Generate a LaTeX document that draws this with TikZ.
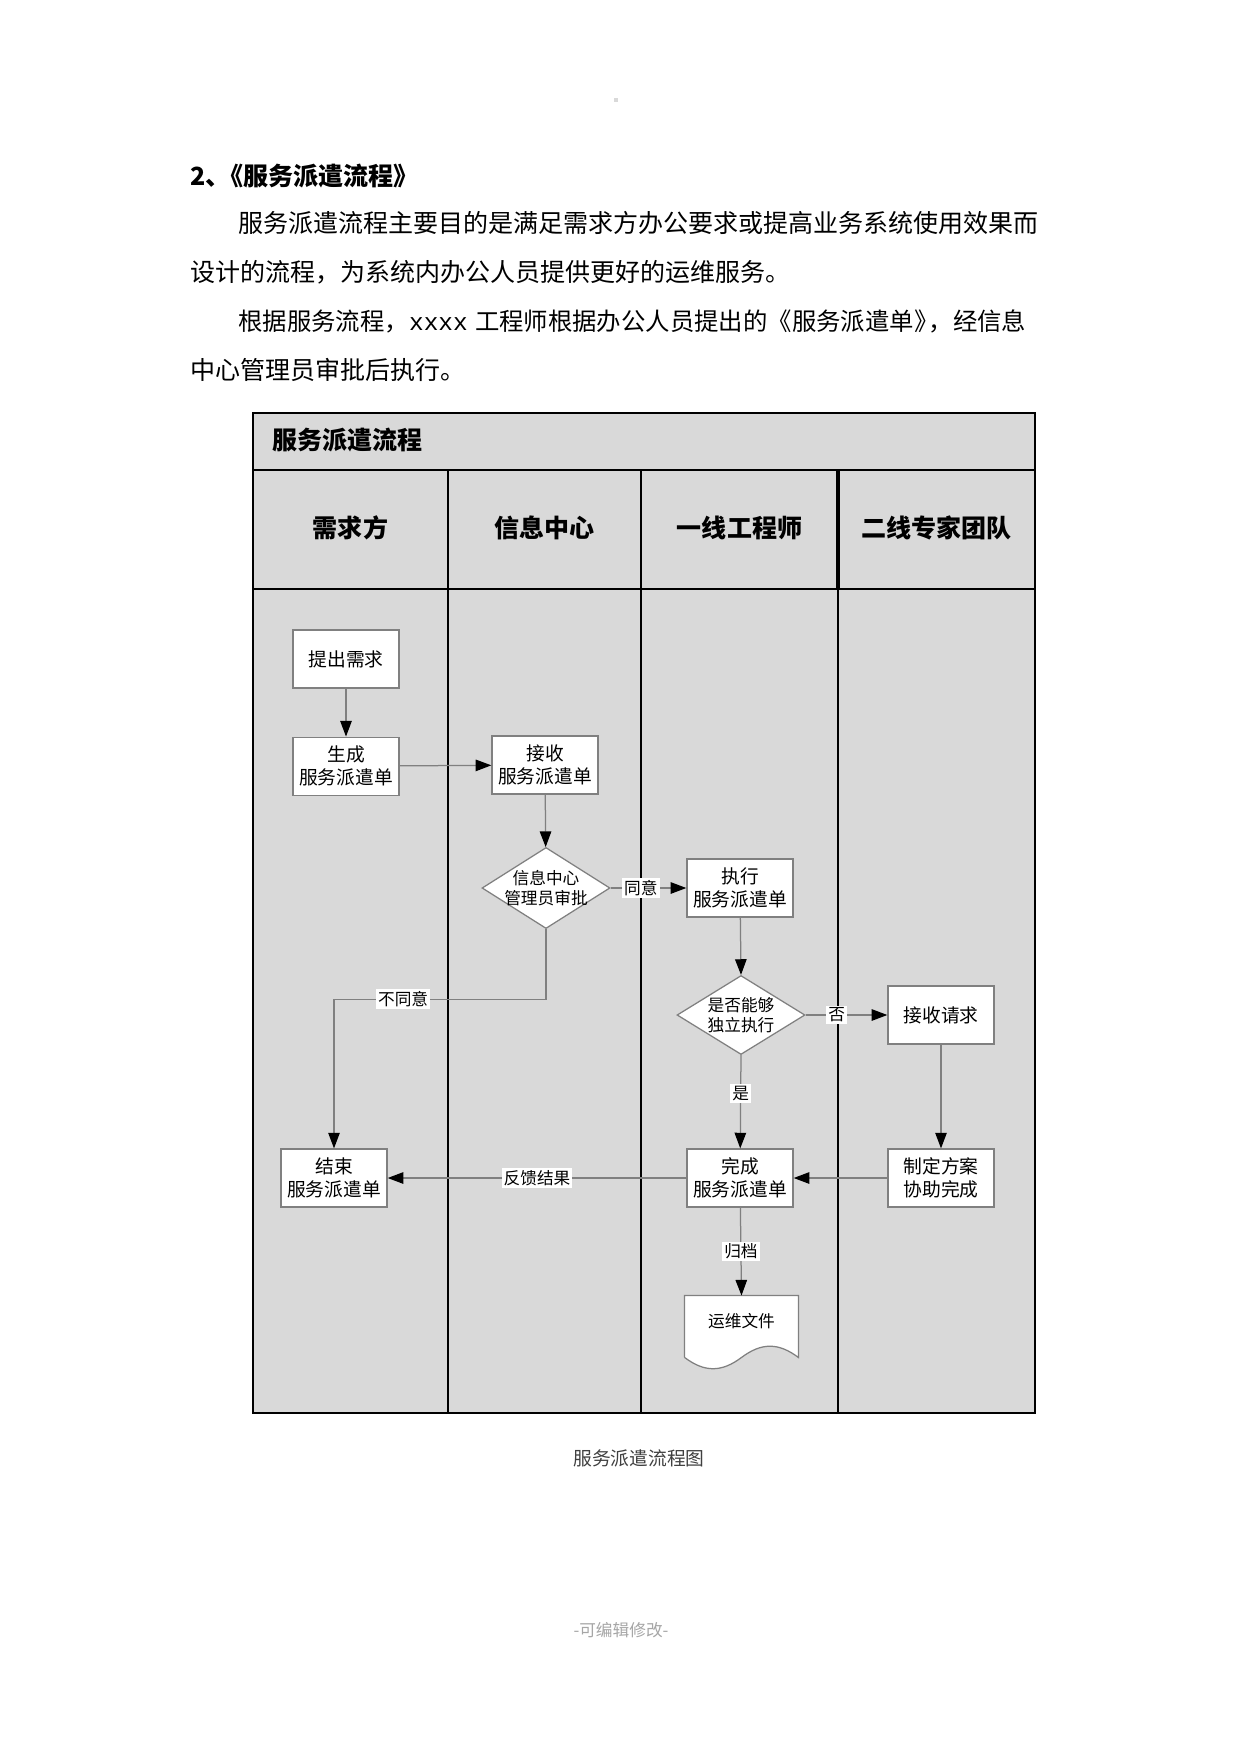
\documentclass[tikz,border=0pt]{standalone}
\usepackage{fontspec}
\setmainfont{Noto Sans CJK SC}
\newfontfamily\monofont{Liberation Mono}
\usepackage{tikz}
\usetikzlibrary{arrows.meta,positioning,shapes.geometric,calc}
\definecolor{lanegrey}{HTML}{D9D9D9}
\definecolor{wiregrey}{HTML}{808080}
\definecolor{capgrey}{HTML}{404040}
\definecolor{footgrey}{HTML}{A6A6A6}

\begin{document}
\begin{tikzpicture}[x=0.4797pt,y=-0.4797pt,
  frame/.style={draw=black,line width=1.1pt},
  stepbox/.style={draw=wiregrey,fill=white,line width=0.6pt,minimum width=50.9pt,minimum height=27.8pt,
              inner sep=1pt,align=center,font=\fontsize{9}{10.8}\selectfont},
  decision/.style={diamond,draw=wiregrey,fill=white,line width=0.6pt,minimum width=61.4pt,
              minimum height=38.9pt,inner sep=0pt},
  dtext/.style={align=center,inner sep=0pt,font=\fontsize{8}{9.7}\selectfont},
  lbl/.style={fill=white,inner sep=1pt,font=\fontsize{8}{9.6}\selectfont},
  arr/.style={-{Triangle[length=7.5pt,width=5.5pt,black]},draw=wiregrey,line width=0.6pt},
  bodytext/.style={anchor=west,inner sep=0pt,font=\fontsize{12}{14}\selectfont},
  lanehead/.style={font=\fontsize{12}{14}\selectfont\bfseries}
]
\useasboundingbox (0,0) rectangle (1241,1754);
\fill[white] (0,0) rectangle (1241,1754);
\fill[lanegrey] (614,98) rectangle (618,102);

% page text
\node[bodytext,font=\fontsize{12}{14}\selectfont\bfseries] (sec) at (190,176) {2、\kern-0.5em《服务派遣流程》};
\node[bodytext] (l1) at (238,223) {服务派遣流程主要目的是满足需求方办公要求或提高业务系统使用效果而};
\node[bodytext] (l2) at (190,272) {设计的流程，为系统内办公人员提供更好的运维服务。};
\node[bodytext,font=\fontsize{11.7}{14}\selectfont] (l3) at (238,321)
     {根据服务流程，{\monofont xxxx}\kern0.3em 工程师根据办公人员提出的《服务派遣单》\kern-0.4em，经信息};
\node[bodytext] (l4) at (190,370) {中心管理员审批后执行。};

% swimlanes
\fill[lanegrey] (253,413) rectangle (1035,1413);
\draw[frame] (253,413) rectangle (1035,1413);
\draw[frame] (253,470) -- (1035,470);
\draw[frame] (253,589) -- (1035,589);
\foreach \x in {448,641,838} \draw[frame] (\x,470) -- (\x,1413);
\draw[line width=1.6pt] (838,470) -- (838,589);
\node[lanehead,anchor=west,inner sep=0pt] (title) at (272,440) {服务派遣流程};
\foreach \x/\t/\n in {350.5/需求方/hd1,544.5/信息中心/hd2,739.5/一线工程师/hd3,936.5/二线专家团队/hd4}
  \node[lanehead] (\n) at (\x,528) {\t};

% steps
\node[stepbox] (ask) at (346,659) {提出需求};
\node[stepbox,below=23pt of ask] (gen) {生成\\服务派遣单};
\node[stepbox] (recv) at (545,765) {接收\\服务派遣单};
\node[decision] (audit) at (546,888) {};
\node[dtext] (audittxt) at (audit) {信息中心\\管理员审批};
\node[stepbox] (exec) at (740,888) {执行\\服务派遣单};
\node[decision,minimum height=37.9pt] (judge) at (741,1015) {};
\node[dtext] (judgetxt) at (judge) {是否能够\\独立执行};
\node[stepbox] (exrecv) at (941,1015) {接收请求};
\node[stepbox] (finish) at (334,1178) {结束\\服务派遣单};
\node[stepbox] (done) at (740,1178) {完成\\服务派遣单};
\node[stepbox] (plan) at (941,1178) {制定方案\\协助完成};
\node[minimum width=54.2pt,minimum height=29.3pt,inner sep=0pt] (doc) at (741.5,1326.5) {};
\draw[draw=wiregrey,fill=white,line width=0.6pt] (doc.south west) -- (doc.north west) -- (doc.north east)
  -- (doc.south east) .. controls +(-20,-15) and +(20,-15) .. (doc.south)
  .. controls +(-20,15) and +(20,15) .. (doc.south west);
\node[font=\fontsize{8}{9.6}\selectfont] (doctxt) at ($(doc)+(0,-5)$) {运维文件};

% connectors
\draw[arr] (ask) -- (gen);
\draw[arr] (gen) -- (recv);
\draw[arr] (recv) -- (audit);
\draw[arr] (audit.east) -- node[lbl,pos=0.4]{同意} (exec);
\draw[arr] (audit.south) -- ++(0,70) -| node[lbl,pos=0.337]{不同意} (finish.north);
\draw[arr] (exec) -- (judge.north);
\draw[arr] (judge.east) -- node[lbl,pos=0.38]{否} (exrecv);
\draw[arr] (judge.south) -- node[lbl,pos=0.41]{是} (done);
\draw[arr] (exrecv) -- (plan);
\draw[arr] (plan) -- (done);
\draw[arr] (done) -- node[lbl]{反馈结果} (finish);
\draw[arr] (done) -- node[lbl]{归档} (doc.north);

% caption and footer
\node[font=\fontsize{9}{11}\selectfont,text=capgrey] (cap) at (639,1458) {服务派遣流程图};
\node[font=\fontsize{8}{10}\selectfont,text=footgrey] (foot) at (621,1630) {-可编辑修改-};
\end{tikzpicture}
\end{document}
